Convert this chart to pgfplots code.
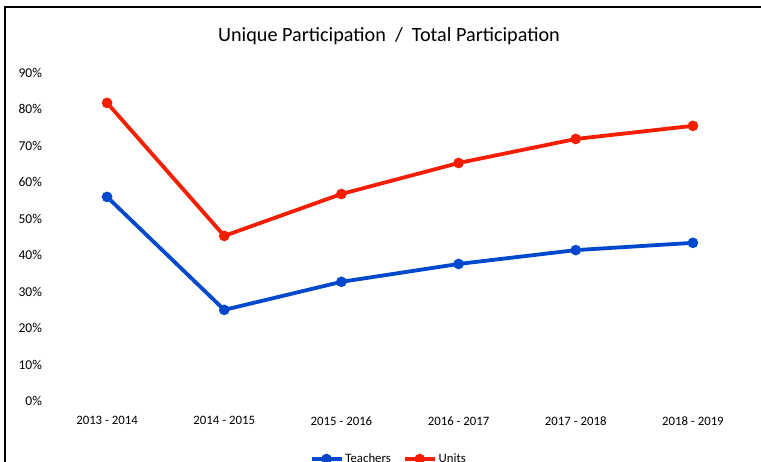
\documentclass[border=0pt]{standalone}
\usepackage{pgfplots}
\pgfplotsset{compat=1.18}
\usepackage{fontspec}
\setmainfont{Carlito}
\definecolor{cRed}{RGB}{245,30,0}
\definecolor{cBlue}{RGB}{0,72,204}
\begin{document}
\begin{tikzpicture}
\useasboundingbox (0pt,0pt) rectangle (761pt,462pt);
\fill[white] (0pt,0pt) rectangle (761pt,462pt);
\draw[line width=2.5pt] (5pt,-20pt) -- (5pt,455pt) -- (800pt,455pt);
\node[font=\fontsize{20.2}{24}\selectfont] at (389pt,426pt) {Unique Participation \ / \ Total Participation};
\begin{axis}[
  at={(48.5pt,61pt)}, anchor=south west,
  scale only axis, width=703pt, height=328pt,
  xmin=-0.5, xmax=5.5, ymin=0, ymax=90,
  axis line style={draw=none},
  major tick length=0pt,
  /pgf/number format/assume math mode=true,
  ytick={0,10,...,90},
  yticklabel={\pgfmathprintnumber{\tick}\%},
  yticklabel style={font=\fontsize{13.5}{15}\selectfont, xshift=-3pt},
  xtick={0,1,2,3,4,5},
  xticklabels={2013 - 2014,2014 - 2015,2015 - 2016,2016 - 2017,2017 - 2018,2018 - 2019},
  xticklabel style={font=\fontsize{12.8}{15}\selectfont, yshift=-12pt},
  legend style={draw=none, fill=none, at={(0.484,-0.177)}, anchor=center,
    legend columns=2, font=\fontsize{12.8}{15}\selectfont,
    /tikz/every even column/.append style={column sep=10pt}},
  legend image code/.code={\draw[mark repeat=2,mark phase=2,#1] plot coordinates {(0pt,0pt) (15pt,0pt) (30pt,0pt)};},
  clip=false,
]
\addplot[cBlue, line width=3.8pt, mark=*, mark size=3.3pt] coordinates {
  (0,56.0) (1,25.0) (2,32.7) (3,37.6) (4,41.4) (5,43.4)};
\addlegendentry{Teachers}
\addplot[cRed, line width=3.8pt, mark=*, mark size=3.3pt] coordinates {
  (0,81.8) (1,45.3) (2,56.8) (3,65.3) (4,71.9) (5,75.5)};
\addlegendentry{Units}
\end{axis}
\end{tikzpicture}
\end{document}
